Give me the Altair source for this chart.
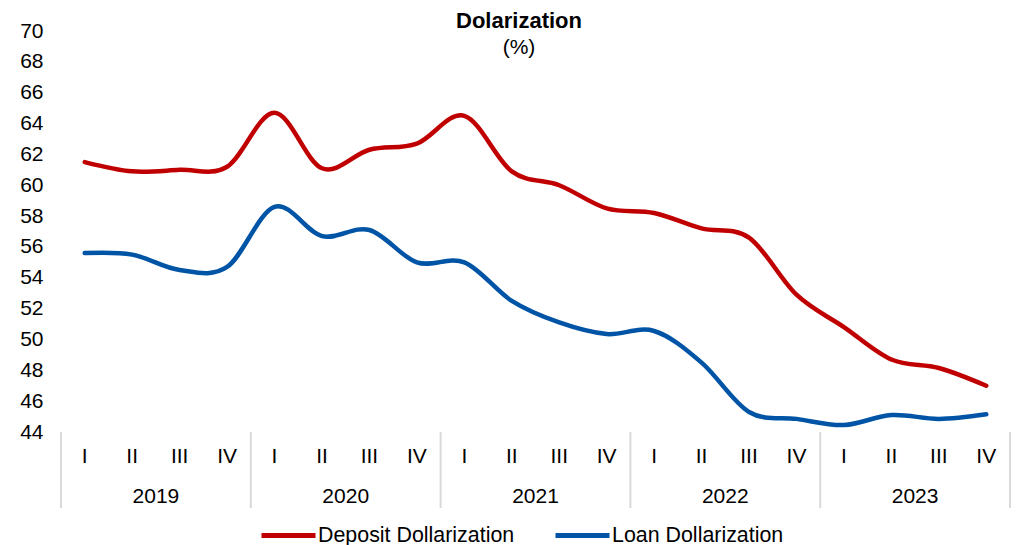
import altair as alt
import pandas as pd

years = ["2019", "2020", "2021", "2022", "2023"]
quarters = ["I", "II", "III", "IV"]
deposit = [61.5, 60.9, 61.0, 61.2,
           64.7, 61.1, 62.3, 62.7,
           64.5, 60.9, 60.0, 58.5,
           58.2, 57.2, 56.6, 52.9,
           50.8, 48.7, 48.15, 47.0]
loan = [55.6, 55.5, 54.5, 54.7,
        58.6, 56.7, 57.1, 55.0,
        55.0, 52.5, 51.1, 50.35,
        50.55, 48.5, 45.3, 44.85,
        44.45, 45.1, 44.85, 45.15]
series_names = ["Deposit Dollarization", "Loan Dollarization"]
series_colors = ["#C00000", "#0054A6"]
y_ticks = [44, 46, 48, 50, 52, 54, 56, 58, 60, 62, 64, 66, 68, 70]
title_text = ["Dolarization"]
subtitle_text = ["(%)"]

FONT = "Liberation Sans"
W, H = 949, 401

rows = []
n = len(years) * len(quarters)
for i in range(n):
    rows.append({"idx": i, "series": series_names[0], "value": deposit[i]})
    rows.append({"idx": i, "series": series_names[1], "value": loan[i]})
df = pd.DataFrame(rows)

qdf = pd.DataFrame({"idx": list(range(n)),
                    "q": [quarters[i % 4] for i in range(n)]})
ydf = pd.DataFrame({"mid": [4 * k + 1.5 for k in range(len(years))],
                    "year": years})
sdf = pd.DataFrame({"b": [4 * k - 0.5 for k in range(len(years) + 1)]})
tdf = pd.DataFrame({"t": title_text})
stdf = pd.DataFrame({"t": subtitle_text})

xscale = alt.Scale(domain=[-0.5, n - 0.5], nice=False, zero=False)

lines = alt.Chart(df).mark_line(
    interpolate="cardinal", tension=0, strokeWidth=4.5, strokeCap="round"
).encode(
    x=alt.X("idx:Q", scale=xscale,
            axis=alt.Axis(labels=False, ticks=False, grid=False, title=None,
                          domainColor="#d9d9d9", domainWidth=2)),
    y=alt.Y("value:Q", scale=alt.Scale(domain=[44, 70], nice=False, zero=False),
            axis=alt.Axis(values=y_ticks, domain=False, ticks=False, grid=False,
                          title=None, labelFontSize=21, labelFont=FONT,
                          labelColor="black", labelPadding=18,
                          labelOverlap=False)),
    color=alt.Color("series:N",
                    scale=alt.Scale(domain=series_names, range=series_colors),
                    legend=alt.Legend(title=None)),
)

seps = alt.Chart(sdf).mark_rule(color="#d9d9d9", strokeWidth=2).encode(
    x=alt.X("b:Q", scale=xscale, axis=None),
    y=alt.value(H),
    y2=alt.value(H + 76),
)

qlab = alt.Chart(qdf).mark_text(
    font=FONT, fontSize=21, color="black", baseline="middle", align="center"
).encode(
    x=alt.X("idx:Q", scale=xscale, axis=None),
    y=alt.value(H + 25),
    text="q:N",
)

ylab = alt.Chart(ydf).mark_text(
    font=FONT, fontSize=21, color="black", baseline="middle", align="center"
).encode(
    x=alt.X("mid:Q", scale=xscale, axis=None),
    y=alt.value(H + 65),
    text="year:N",
)

title = alt.Chart(tdf).mark_text(
    font=FONT, fontSize=22, fontWeight="bold", color="black",
    baseline="middle", align="center"
).encode(x=alt.value(458), y=alt.value(-10), text="t:N")

subtitle = alt.Chart(stdf).mark_text(
    font=FONT, fontSize=21, color="black", baseline="middle", align="center"
).encode(x=alt.value(458), y=alt.value(17), text="t:N")

chart = alt.layer(seps, lines, qlab, ylab, title, subtitle).properties(
    width=W, height=H,
    autosize=alt.AutoSizeParams(type="none"),
    padding={"left": 53, "top": 23, "right": 4, "bottom": 114},
).configure_view(stroke=None).configure_legend(
    orient="none", legendX=198, legendY=475, direction="horizontal",
    symbolType="stroke", symbolSize=2916, symbolStrokeWidth=5,
    labelFontSize=21.4, labelFont=FONT, labelColor="black", labelLimit=400,
    labelOffset=0, columnPadding=30, padding=0,
)

chart.save("out.html", embed_options={"renderer": "svg", "actions": False})
